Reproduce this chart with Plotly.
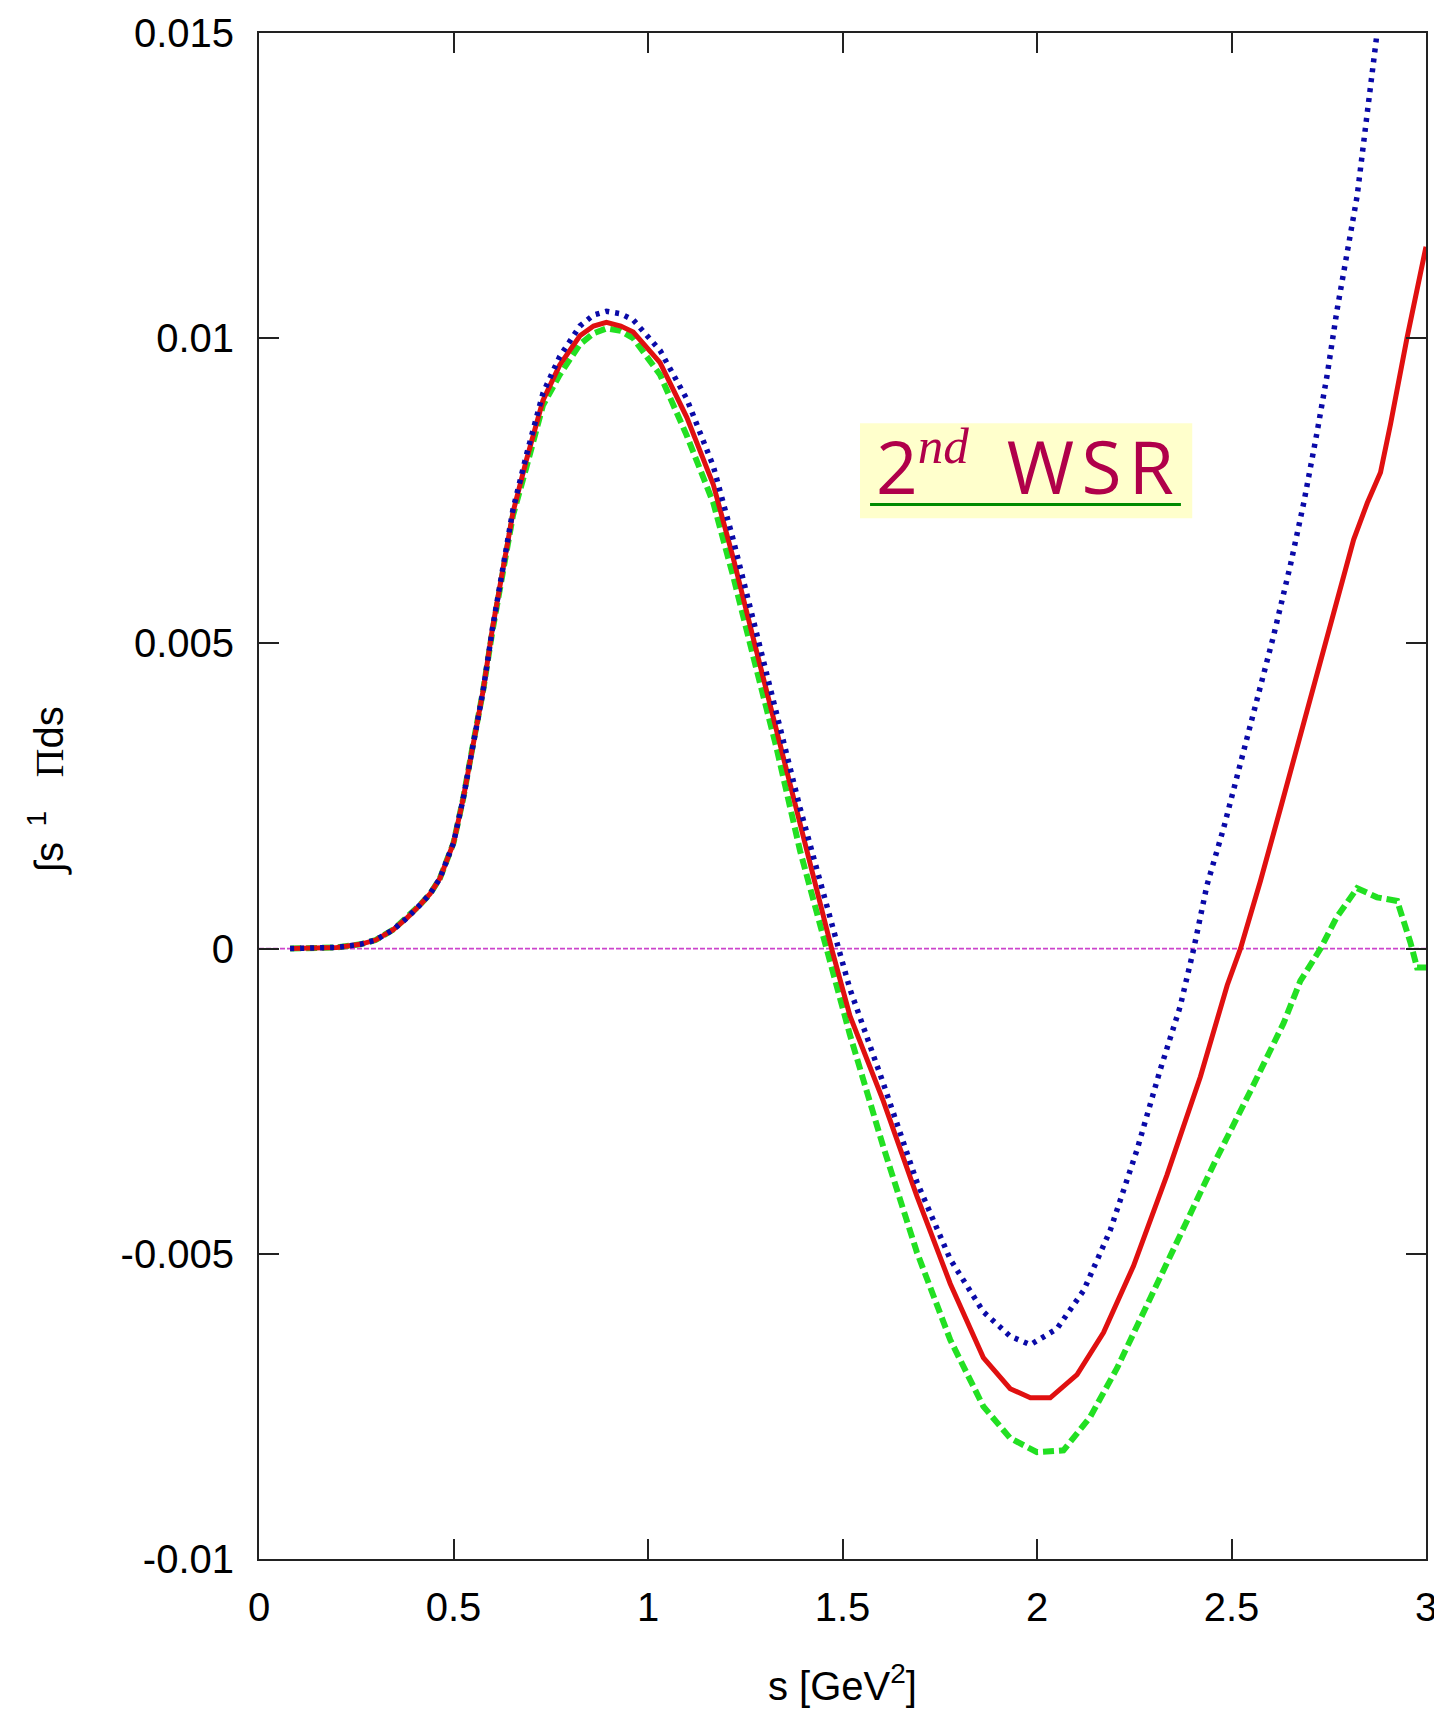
import plotly.graph_objects as go

# ---- data ----
s_red = [0.08, 0.15, 0.2, 0.26, 0.3, 0.345, 0.38, 0.413, 0.44, 0.465, 0.5, 0.525, 0.55, 0.576,
         0.6, 0.627, 0.653, 0.688, 0.73, 0.773, 0.825, 0.86, 0.893, 0.93, 0.962, 1.031, 1.1,
         1.168, 1.219, 1.27, 1.33, 1.391, 1.472, 1.519, 1.605, 1.691, 1.777, 1.862, 1.931,
         1.983, 2.034, 2.103, 2.171, 2.248, 2.334, 2.42, 2.489, 2.523, 2.574, 2.626, 2.677,
         2.729, 2.78, 2.814, 2.849, 2.883, 2.909, 2.951, 3.0]
v_red = [0.0, 0.00001, 0.00002, 0.00007, 0.00014, 0.00031, 0.0005, 0.00071, 0.0009, 0.00115,
         0.00173, 0.00246, 0.00334, 0.00422, 0.00524, 0.00627, 0.00715, 0.00802, 0.00898,
         0.00956, 0.01004, 0.0102, 0.01026, 0.0102, 0.0101, 0.0096, 0.0087, 0.0076, 0.0064,
         0.0051, 0.0036, 0.002, 0.0, -0.0011, -0.0025, -0.00405, -0.00549, -0.0067, -0.00721,
         -0.00736, -0.00736, -0.00698, -0.00629, -0.0052, -0.00371, -0.0021, -0.0006, 0.0,
         0.0011, 0.0023, 0.0035, 0.0047, 0.0059, 0.0067, 0.0073, 0.0078, 0.0086, 0.0100, 0.0115]

s_blue = [0.08, 0.15, 0.2, 0.26, 0.3, 0.345, 0.38, 0.413, 0.44, 0.465, 0.5, 0.525, 0.55, 0.576,
          0.6, 0.627, 0.653, 0.688, 0.73, 0.773, 0.825, 0.86, 0.893, 0.93, 0.962, 1.031, 1.1,
          1.168, 1.219, 1.27, 1.33, 1.391, 1.49, 1.519, 1.605, 1.691, 1.777, 1.862, 1.931,
          1.983, 2.051, 2.12, 2.188, 2.257, 2.317, 2.368, 2.403, 2.437, 2.48, 2.523, 2.566,
          2.608, 2.651, 2.686, 2.72, 2.746, 2.771, 2.797, 2.823, 2.849, 2.87, 2.88]
v_blue = [0.0, 0.00001, 0.00002, 0.00007, 0.00014, 0.00031, 0.0005, 0.00071, 0.0009, 0.00115,
          0.00173, 0.00246, 0.00334, 0.00422, 0.00524, 0.00627, 0.0072, 0.0081, 0.0091,
          0.0097, 0.0102, 0.01038, 0.01044, 0.0104, 0.0103, 0.0098, 0.009, 0.0079, 0.0067,
          0.0054, 0.0039, 0.0023, 0.0, -0.00066, -0.00221, -0.00382, -0.00509, -0.00595,
          -0.00635, -0.00649, -0.00623, -0.0056, -0.00462, -0.0033, -0.00198, -0.00095, 0.0,
          0.00104, 0.00198, 0.00303, 0.00408, 0.00512, 0.00627, 0.00731, 0.00846, 0.0094,
          0.01045, 0.01139, 0.01233, 0.01369, 0.0149, 0.0153]

s_green = [0.08, 0.15, 0.2, 0.26, 0.3, 0.345, 0.38, 0.413, 0.44, 0.465, 0.5, 0.525, 0.55, 0.576,
           0.6, 0.627, 0.653, 0.688, 0.73, 0.773, 0.825, 0.86, 0.893, 0.93, 0.962, 1.031, 1.1,
           1.168, 1.219, 1.27, 1.33, 1.391, 1.46, 1.519, 1.605, 1.691, 1.777, 1.862, 1.931,
           2.0, 2.068, 2.137, 2.206, 2.291, 2.377, 2.463, 2.549, 2.634, 2.677, 2.729, 2.771,
           2.823, 2.874, 2.926, 2.96, 2.977, 3.0]
v_green = [0.0, 0.00001, 0.00002, 0.00007, 0.00014, 0.00031, 0.0005, 0.00071, 0.0009, 0.00115,
           0.00173, 0.00246, 0.00334, 0.00422, 0.0052, 0.0062, 0.0071, 0.0079, 0.0089,
           0.0094, 0.0099, 0.01008, 0.01016, 0.01012, 0.01, 0.0094, 0.0084, 0.0073, 0.0061,
           0.0048, 0.0033, 0.0016, 0.0, -0.00141, -0.00325, -0.00497, -0.00641, -0.0075,
           -0.00802, -0.00825, -0.00822, -0.00767, -0.00687, -0.00572, -0.00457, -0.00342,
           -0.00233, -0.00122, -0.00053, 0.0, 0.00052, 0.00099, 0.00084, 0.00078, 0.0001,
           -0.00031, -0.00031]

zero_s = [0.0, 3.0]
zero_v = [0.0, 0.0]

x_tickvals = [0, 0.5, 1, 1.5, 2, 2.5, 3]
x_ticktext = ["0", "0.5", "1", "1.5", "2", "2.5", "3"]
y_tickvals = [-0.01, -0.005, 0, 0.005, 0.01, 0.015]
y_ticktext = ["-0.01", "-0.005", "0", "0.005", "0.01", "0.015"]

FONT = "Liberation Sans Narrow, Liberation Sans, Arial, sans-serif"

fig = go.Figure()
fig.add_trace(go.Scatter(x=zero_s, y=zero_v, mode="lines",
                         line=dict(color="#cc44cc", width=1.8, dash="5px,2px"), showlegend=False))
fig.add_trace(go.Scatter(x=s_green, y=v_green, mode="lines",
                         line=dict(color="#22e022", width=6, dash="11px,5px"), showlegend=False))
fig.add_trace(go.Scatter(x=s_red, y=v_red, mode="lines",
                         line=dict(color="#e01010", width=5), showlegend=False))
fig.add_trace(go.Scatter(x=s_blue, y=v_blue, mode="lines",
                         line=dict(color="#0a0aa8", width=5.5, dash="4px,6px"), showlegend=False))

axis_common = dict(showgrid=False, zeroline=False, showline=True, linecolor="#222",
                   linewidth=2, mirror="ticks", ticks="inside", ticklen=20, tickwidth=1.5,
                   tickcolor="#222", automargin=False,
                   tickfont=dict(family=FONT, size=40, color="black"))

fig.update_xaxes(range=[0, 3], tickvals=x_tickvals, ticktext=x_ticktext,
                 ticklabelstandoff=12, **axis_common)
fig.update_yaxes(range=[-0.01, 0.015], tickvals=y_tickvals, ticktext=y_ticktext,
                 ticklabelstandoff=15, **axis_common)

# label box background and underline
fig.add_shape(type="rect", xref="paper", yref="paper", x0=0.515, x1=0.7997, y0=0.682, y1=0.7442,
              fillcolor="#ffffcc", line=dict(width=0), layer="below")
fig.add_shape(type="line", xref="paper", yref="paper", x0=0.5236, x1=0.790, y0=0.6911, y1=0.6911,
              line=dict(color="#008a00", width=3))

fig.add_annotation(xref="paper", yref="paper", x=0.6565, y=0.7165, xanchor="center", yanchor="middle",
                   text="2<sup><span style='font-family:Liberation Serif'><i>nd</i></span></sup>"
                        "\u00a0\u00a0W\u200aS\u200aR",
                   showarrow=False,
                   font=dict(family="Open Sans, DejaVu Sans, sans-serif", size=73, color="#b0004a"))

fig.add_annotation(xref="paper", yref="paper", x=0.5, y=-0.0815, xanchor="center", yanchor="middle",
                   text="s [GeV<sup>2</sup>]", showarrow=False,
                   font=dict(family=FONT, size=40, color="black"))
fig.add_annotation(xref="paper", yref="paper", x=-0.182, y=0.5037, xanchor="center", yanchor="middle",
                   text="\u222bs<sup>\u00a0\u00a01</sup>\u00a0\u00a0\u00a0"
                        "<span style='font-family:Liberation Serif'>\u03a0</span>ds",
                   showarrow=False, textangle=-90,
                   font=dict(family=FONT, size=40, color="black"))

# page body has an 8px margin: size the figure so the plot area lands where the reference has it
fig.update_layout(width=1434, height=1701, margin=dict(l=251, r=16, t=25, b=150, autoexpand=False),
                  paper_bgcolor="white", plot_bgcolor="white")

fig.write_html("out.html")
